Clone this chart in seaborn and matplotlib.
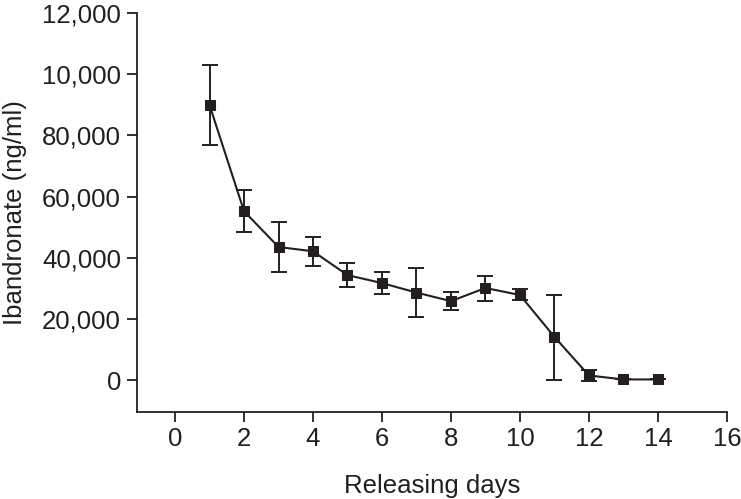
import matplotlib
matplotlib.use("Agg")
import matplotlib.pyplot as plt
import numpy as np
import pandas as pd
import seaborn as sns

# values
days = [1, 2, 3, 4, 5, 6, 7, 8, 9, 10, 11, 12, 13, 14]
conc = [89900, 55200, 43500, 42100, 34300, 31700, 28600, 25800, 30100, 27800, 14100, 1500, 200, 200]
err_low = [13100, 6800, 8200, 4800, 3900, 3600, 8000, 3000, 4200, 1700, 14200, 1900, 0, 0]
err_high = [13100, 6900, 8100, 4600, 3900, 3600, 8000, 3100, 4000, 1900, 13600, 1800, 0, 0]
ytick_vals = [0, 20000, 40000, 60000, 80000, 100000, 120000]
ytick_labels = ["0", "20,000", "40,000", "60,000", "80,000", "10,000", "12,000"]
xtick_vals = [0, 2, 4, 6, 8, 10, 12, 14, 16]

df = pd.DataFrame({"day": days, "conc": conc})

sns.set_style("ticks")
plt.rcParams["font.family"] = ["Liberation Sans", "DejaVu Sans"]

fig = plt.figure(figsize=(7.41, 4.99), dpi=100)
ax = fig.add_axes([0.185, 0.174, 0.796, 0.80])

ax.errorbar(df["day"], df["conc"], yerr=[err_low, err_high], fmt="none",
            ecolor="#231f20", elinewidth=1.4, capsize=5.5, capthick=1.4, zorder=2)
sns.lineplot(data=df, x="day", y="conc", ax=ax, color="#231f20", linewidth=1.5,
             marker="s", markersize=7.5, markeredgecolor="#231f20", zorder=3)

ax.set_xlim(-1.1, 16)
ax.set_ylim(-10500, 120000)
ax.set_xticks(xtick_vals)
ax.set_xticklabels([str(v) for v in xtick_vals])
ax.set_yticks(ytick_vals)
ax.set_yticklabels(ytick_labels)
ax.tick_params(axis="both", labelsize=18.5, length=7.5, width=1.3, color="#231f20",
               labelcolor="#231f20")
ax.tick_params(axis="y", pad=4)
ax.tick_params(axis="x", pad=3)

for s in ["top", "right"]:
    ax.spines[s].set_visible(False)
for s in ["left", "bottom"]:
    ax.spines[s].set_linewidth(1.3)
    ax.spines[s].set_color("#231f20")

ax.set_xlabel("Releasing days", fontsize=18.5, color="#231f20", labelpad=17)
ax.set_ylabel("Ibandronate (ng/ml)", fontsize=18.5, color="#231f20", labelpad=11)

plt.savefig("out.png", dpi=100)
